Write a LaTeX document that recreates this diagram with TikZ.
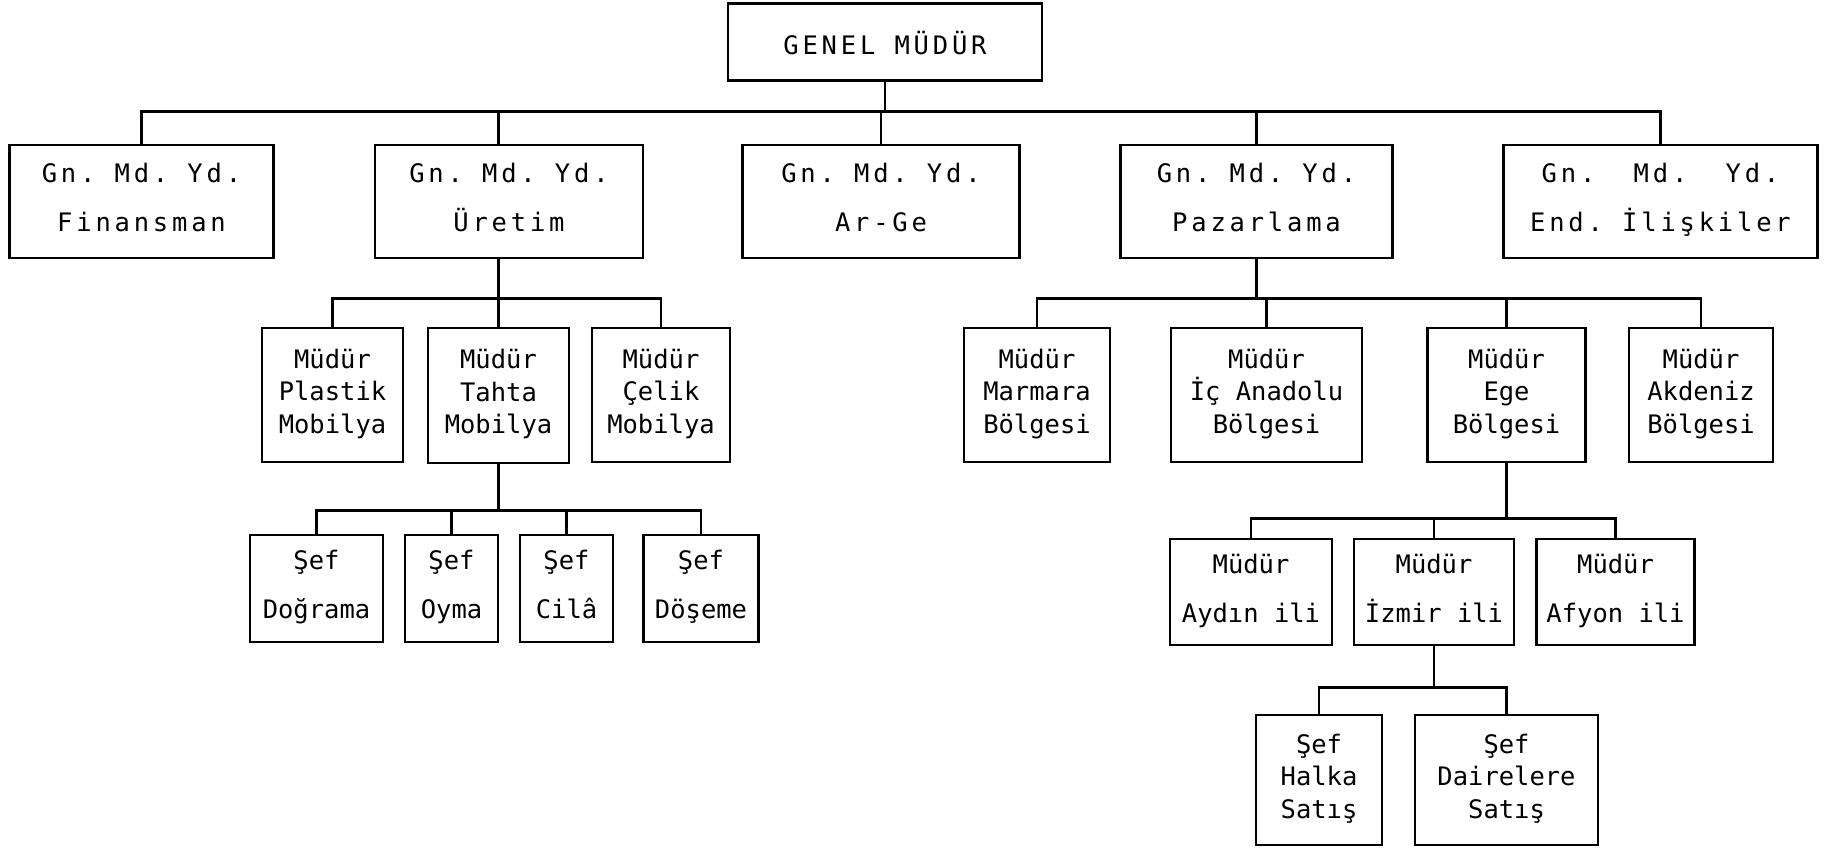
\documentclass[tikz,border=0pt]{standalone}
\usepackage{fontspec}
\newfontfamily\orgfont{DejaVu Sans Mono}
\newfontfamily\orgwide[LetterSpace=15]{DejaVu Sans Mono}
\newcommand\toprow{\rule{0pt}{13pt}}
\newcommand\widerow{\rule{0pt}{19pt}}
\newcommand\lowrow{\rule[-4.5pt]{0pt}{4.5pt}}
\frenchspacing

\begin{document}
\begin{tikzpicture}[
    box/.style={draw, line width=1.3pt, align=center, inner sep=0pt,
      execute at begin node=\toprow, execute at end node=\lowrow},
    wide/.style={box, execute at begin node=\widerow, font=\orgwide\fontsize{14.5}{28}\selectfont},
    pair/.style={box, font=\orgfont\fontsize{14.5}{28}\selectfont},
    stack/.style={box, font=\orgfont\fontsize{14.5}{18.5}\selectfont},
    link/.style={line width=1.3pt}]
  \useasboundingbox (0,0) rectangle (36.48,-16.94);
  % top
  \node[wide, minimum width=6.28cm, minimum height=1.54cm] (gm) at (17.70,-0.84) {GENEL MÜDÜR};
  % assistants
  \node[wide, minimum width=5.28cm, minimum height=2.27cm] (fin) at (2.83,-4.03) {Gn. Md. Yd.\\Finansman};
  \node[wide, minimum width=5.35cm, minimum height=2.27cm] (ure) at (10.18,-4.03) {Gn. Md. Yd.\\Üretim};
  \node[wide, minimum width=5.54cm, minimum height=2.27cm] (arge) at (17.62,-4.03) {Gn. Md. Yd.\\Ar-Ge};
  \node[wide, minimum width=5.44cm, minimum height=2.27cm] (paz) at (25.13,-4.03) {Gn. Md. Yd.\\Pazarlama};
  \node[wide, minimum width=6.28cm, minimum height=2.27cm] (ilis) at (33.21,-4.03) {Gn.\ \ Md.\ \ Yd.\\End. İlişkiler};
  \coordinate (b1) at (0,-2.23);
  \draw[link] (gm.south) -- (gm.south |- b1);
  \draw[link] (fin.north) -- (fin.north |- b1) -- (ilis.north |- b1) -- (ilis.north);
  \draw[link] (arge.north) -- (arge.north |- b1);
  \draw[link] (paz.north) -- (paz.north |- b1);
  % uretim
  \node[stack, minimum width=2.83cm, minimum height=2.67cm] (pla) at (6.65,-7.90) {Müdür\\Plastik\\Mobilya};
  \node[stack, minimum width=2.83cm, minimum height=2.70cm] (tah) at (9.97,-7.91) {Müdür\\Tahta\\Mobilya};
  \node[stack, minimum width=2.75cm, minimum height=2.67cm] (cel) at (13.22,-7.90) {Müdür\\Çelik\\Mobilya};
  \coordinate (b2) at (0,-5.97);
  \draw[link] (tah.north |- ure.north) -- (tah.north |- b1);
  \draw[link] (tah.north |- ure.south) -- (tah.north);
  \draw[link] (pla.north) -- (pla.north |- b2) -- (cel.north |- b2) -- (cel.north);
  % tahta
  \node[pair, minimum width=2.65cm, minimum height=2.13cm] (dog) at (6.33,-11.77) {Şef\\Doğrama};
  \node[pair, minimum width=1.86cm, minimum height=2.13cm] (oym) at (9.03,-11.77) {Şef\\Oyma};
  \node[pair, minimum width=1.86cm, minimum height=2.13cm] (cil) at (11.33,-11.77) {Şef\\Cilâ};
  \node[pair, minimum width=2.30cm, minimum height=2.13cm] (dos) at (14.02,-11.77) {Şef\\Döşeme};
  \coordinate (b3) at (0,-10.21);
  \draw[link] (tah.south) -- (tah.south |- b3);
  \draw[link] (dog.north) -- (dog.north |- b3) -- (dos.north |- b3) -- (dos.north);
  \draw[link] (oym.north) -- (oym.north |- b3);
  \draw[link] (cil.north) -- (cil.north |- b3);
  % pazarlama
  \node[stack, minimum width=2.93cm, minimum height=2.67cm] (mar) at (20.74,-7.90) {Müdür\\Marmara\\Bölgesi};
  \node[stack, minimum width=3.81cm, minimum height=2.67cm] (ica) at (25.33,-7.90) {Müdür\\İç Anadolu\\Bölgesi};
  \node[stack, minimum width=3.16cm, minimum height=2.67cm] (ege) at (30.13,-7.90) {Müdür\\Ege\\Bölgesi};
  \node[stack, minimum width=2.88cm, minimum height=2.67cm] (akd) at (34.02,-7.90) {Müdür\\Akdeniz\\Bölgesi};
  \draw[link] (paz.south) -- (paz.south |- b2);
  \draw[link] (mar.north) -- (mar.north |- b2) -- (akd.north |- b2) -- (akd.north);
  \draw[link] (ica.north) -- (ica.north |- b2);
  \draw[link] (ege.north) -- (ege.north |- b2);
  % ege
  \node[pair, minimum width=3.23cm, minimum height=2.12cm] (ayd) at (25.02,-11.84) {Müdür\\Aydın ili};
  \node[pair, minimum width=3.19cm, minimum height=2.12cm] (izm) at (28.68,-11.84) {Müdür\\İzmir ili};
  \node[pair, minimum width=3.16cm, minimum height=2.12cm] (afy) at (32.31,-11.84) {Müdür\\Afyon ili};
  \coordinate (b4) at (0,-10.37);
  \draw[link] (ege.south) -- (ege.south |- b4);
  \draw[link] (ayd.north) -- (ayd.north |- b4) -- (afy.north |- b4) -- (afy.north);
  \draw[link] (izm.north) -- (izm.north |- b4);
  % izmir
  \node[stack, minimum width=2.51cm, minimum height=2.60cm] (hal) at (26.38,-15.60) {Şef\\Halka\\Satış};
  \node[stack, minimum width=3.66cm, minimum height=2.60cm] (dai) at (30.13,-15.60) {Şef\\Dairelere\\Satış};
  \coordinate (b5) at (0,-13.75);
  \draw[link] (izm.south) -- (izm.south |- b5);
  \draw[link] (hal.north) -- (hal.north |- b5) -- (dai.north |- b5) -- (dai.north);
\end{tikzpicture}
\end{document}
